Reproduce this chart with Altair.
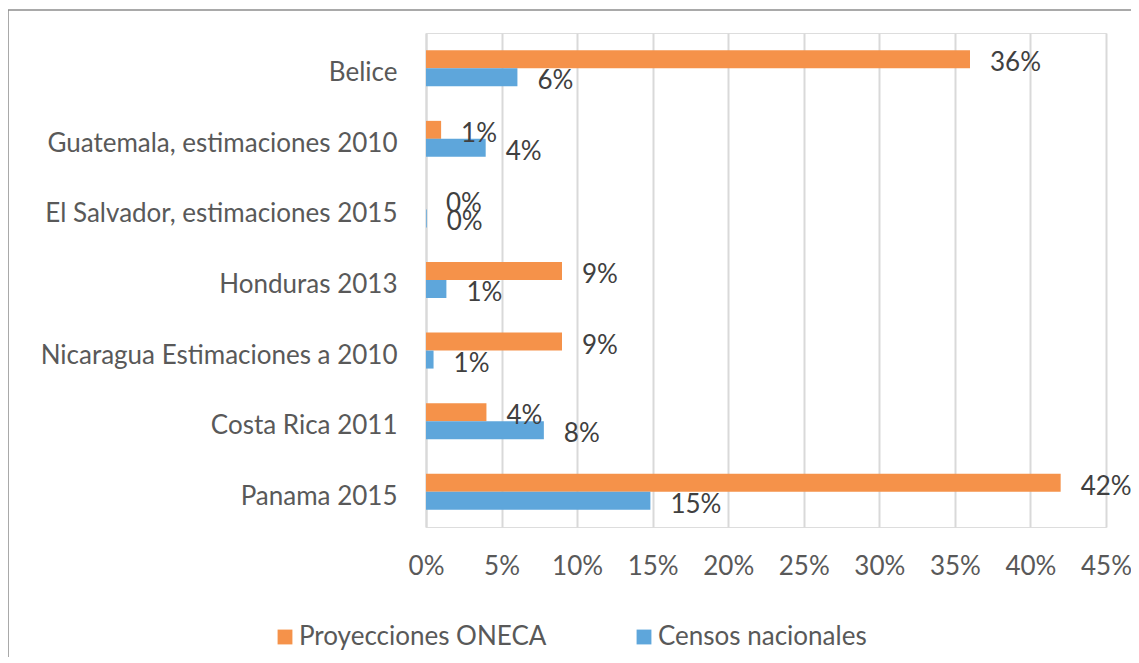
import altair as alt
import pandas as pd

categories = [
    "Belice",
    "Guatemala, estimaciones 2010",
    "El Salvador, estimaciones 2015",
    "Honduras 2013",
    "Nicaragua Estimaciones a 2010",
    "Costa Rica 2011",
    "Panama 2015",
]
series = ["Proyecciones ONECA", "Censos nacionales"]
oneca = [36, 1, 0, 9, 9, 4, 42]
censos = [6.05, 3.95, 0.05, 1.35, 0.5, 7.8, 14.85]
x_ticks = [0, 5, 10, 15, 20, 25, 30, 35, 40, 45]
colors = ["#F5924A", "#5EA6DB"]

rows = []
for c, a, b in zip(categories, oneca, censos):
    rows.append({"cat": c, "serie": series[0], "v": a})
    rows.append({"cat": c, "serie": series[1], "v": b})
df = pd.DataFrame(rows)

FONT = "Lato"
FS = 26

y_enc = alt.Y("cat:N", sort=categories, title=None,
              scale=alt.Scale(paddingInner=0.49, paddingOuter=0.245),
              axis=alt.Axis(domain=True, domainColor="#d9d9d9", domainWidth=2,
                            ticks=False, labelPadding=29, labelFontSize=FS,
                            labelLimit=0, labelOffset=5,
                            labelColor="#595959", labelFont=FONT, grid=False))
yoff = alt.YOffset("serie:N", sort=series, scale=alt.Scale(paddingInner=0, paddingOuter=0))
x_enc = alt.X("v:Q", title=None,
              scale=alt.Scale(domain=[0, 45], nice=False, zero=True),
              axis=alt.Axis(values=x_ticks, labelExpr="datum.value + '%'",
                            domain=False, ticks=False, labelPadding=26,
                            labelFlush=False, labelBound=False, labelOverlap=False,
                            labelFontSize=FS, labelColor="#595959", labelFont=FONT,
                            grid=True, gridColor="#d9d9d9", gridWidth=2))

bars = alt.Chart(df).mark_bar().encode(
    y=y_enc,
    yOffset=yoff,
    x=x_enc,
    color=alt.Color("serie:N", sort=series,
                    scale=alt.Scale(domain=series, range=colors),
                    legend=alt.Legend(title=None, orient="none", direction="horizontal",
                                      legendX=-154, legendY=591,
                                      symbolType="square", symbolSize=220,
                                      symbolStrokeWidth=0, symbolOpacity=1,
                                      labelFontSize=FS, labelColor="#595959",
                                      labelFont=FONT, labelLimit=0, columnPadding=84,
                                      labelOffset=1)),
)

labels = alt.Chart(df).transform_calculate(
    lab="format(round(datum.v), 'd') + '%'"
).mark_text(align="left", baseline="middle", dx=20, dy=4,
            fontSize=FS, font=FONT, color="#404040").encode(
    y=alt.Y("cat:N", sort=categories),
    yOffset=alt.YOffset("serie:N", sort=series),
    x=alt.X("v:Q"),
    text="lab:N",
)

frame = pd.DataFrame({"k": [0]})
top_line = alt.Chart(frame).mark_rule(color="#8c8c8c", strokeWidth=1.5).encode(
    x=alt.value(-418), x2=alt.value(740), y=alt.value(-23)
)
left_line = alt.Chart(frame).mark_rule(color="#8c8c8c", strokeWidth=1.5).encode(
    x=alt.value(-418), y=alt.value(-23), y2=alt.value(660)
)

chart = alt.layer(bars, labels, top_line, left_line).properties(
    width=680, height=494,
    autosize=alt.AutoSizeParams(type="none"),
    padding={"left": 418, "top": 25, "right": 25, "bottom": 130},
).configure_view(stroke=None).configure(background="white")

chart.save("out.html", embed_options={"renderer": "svg", "actions": False})
